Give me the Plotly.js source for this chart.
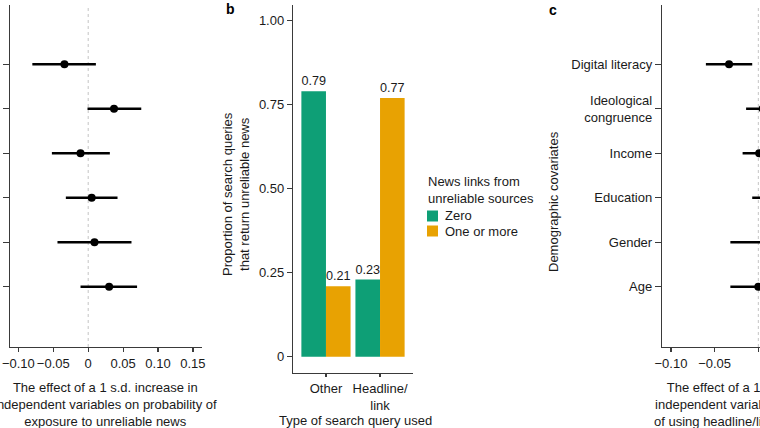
<!DOCTYPE html>
<html>
<head>
<meta charset="utf-8">
<script src="https://cdn.plot.ly/plotly-3.0.1.min.js"></script>
<style>html,body{margin:0;padding:0;background:#fff;}#chart{width:760px;height:428px;}</style>
</head>
<body>
<div id="chart"></div>
<script>
// ---- Data ----
// Covariates, ordered bottom to top
const covariates = ["Age", "Gender", "Education", "Income", "Ideological<br>congruence", "Digital literacy"];

// Panel a: effect on probability of exposure to unreliable news
const exposureEst = [0.030, 0.009, 0.005, -0.011, 0.037, -0.034];
const exposureLo  = [-0.011, -0.044, -0.032, -0.052, -0.001, -0.080];
const exposureHi  = [0.070, 0.062, 0.042, 0.031, 0.076, 0.011];

// Panel b: proportion of search queries returning unreliable news
const queryTypes = ["Other", "Headline/<br>link"];
const seriesNames = ["Zero", "One or more"];
const zeroLinks = [0.79, 0.23];
const oneOrMoreLinks = [0.21, 0.77];

// Panel c: effect on probability of using headline/link queries
const headlineEst = [0.000, 0.008, 0.012, 0.001, 0.005, -0.0335];
const headlineLo  = [-0.032, -0.032, -0.007, -0.018, -0.014, -0.060];
const headlineHi  = [0.032, 0.048, 0.030, 0.020, 0.025, -0.007];

const ticksA = [-0.10, -0.05, 0, 0.05, 0.10, 0.15];
const tickLabelsA = ["\u22120.10", "\u22120.05", "0", "0.05", "0.10", "0.15"];
const ticksB = [0, 0.25, 0.5, 0.75, 1.0];
const tickLabelsB = ["0", "0.25", "0.50", "0.75", "1.00"];
const ticksC = [-0.10, -0.05, 0];
const tickLabelsC = ["\u22120.10", "\u22120.05", "0"];

// ---- Helpers ----
const W = 760, H = 428;
const px = v => v / W;
const py = v => 1 - v / H;
const FONT = "Liberation Sans, Arial, Helvetica, sans-serif";
const TXT = "#1a1a1a";
const AX = "#3a3a3a";
const GREEN = "#0E9F76";
const ORANGE = "#E8A202";
const colors = [GREEN, ORANGE];

function errs(est, lo, hi) {
  return {
    plus: est.map((e, i) => hi[i] - e),
    minus: est.map((e, i) => e - lo[i])
  };
}
const eA = errs(exposureEst, exposureLo, exposureHi);
const eC = errs(headlineEst, headlineLo, headlineHi);

const traces = [
  {
    type: "scatter", mode: "markers", x: exposureEst, y: covariates,
    xaxis: "x", yaxis: "y",
    marker: {color: "#000", size: 8},
    error_x: {type: "data", symmetric: false, array: eA.plus, arrayminus: eA.minus,
              color: "#000", thickness: 2.4, width: 0},
    showlegend: false, hoverinfo: "x+y"
  },
  {
    type: "bar", name: seriesNames[0], x: queryTypes, y: zeroLinks,
    xaxis: "x2", yaxis: "y2", showlegend: false,
    marker: {color: colors[0], line: {width: 0}},
    text: zeroLinks.map(v => v.toFixed(2)), textposition: "outside",
    textfont: {family: FONT, size: 13, color: TXT}, cliponaxis: false
  },
  {
    type: "bar", name: seriesNames[1], x: queryTypes, y: oneOrMoreLinks,
    xaxis: "x2", yaxis: "y2", showlegend: false,
    marker: {color: colors[1], line: {width: 0}},
    text: oneOrMoreLinks.map(v => v.toFixed(2)), textposition: "outside",
    textfont: {family: FONT, size: 13, color: TXT}, cliponaxis: false
  },
  {
    type: "scatter", mode: "markers", x: headlineEst, y: covariates,
    xaxis: "x3", yaxis: "y3",
    marker: {color: "#000", size: 8},
    error_x: {type: "data", symmetric: false, array: eC.plus, arrayminus: eC.minus,
              color: "#000", thickness: 2.4, width: 0},
    showlegend: false, hoverinfo: "x+y"
  }
];

const axCommon = {
  showgrid: false, zeroline: false, showline: true, linecolor: AX, linewidth: 1.2,
  ticks: "outside", ticklen: 4, tickwidth: 1.2, tickcolor: AX,
  tickfont: {family: FONT, size: 13, color: TXT}
};

const rowRange = [-1.356, 6.333];

// Legend drawn as small squares with labels (compact spacing as in the reference)
const legendShapes = seriesNames.map((n, i) => ({
  type: "rect", xref: "paper", yref: "paper",
  x0: px(427), x1: px(438), y0: py(221.5 + 15 * i), y1: py(210.5 + 15 * i),
  fillcolor: colors[i], line: {width: 0}
}));
const legendLabels = seriesNames.map((n, i) => ({
  text: n, xref: "paper", yref: "paper", x: px(443), y: py(216 + 15 * i),
  xanchor: "left", yanchor: "middle", showarrow: false,
  font: {family: FONT, size: 13, color: TXT}
}));

const layout = {
  width: W, height: H,
  margin: {l: 0, r: 0, t: 0, b: 0},
  paper_bgcolor: "#fff", plot_bgcolor: "#fff",
  font: {family: FONT, size: 13, color: TXT},
  barmode: "group", bargap: 0.09, bargroupgap: 0,
  showlegend: false,
  xaxis: Object.assign({}, axCommon, {
    domain: [px(10), px(202)], range: [-0.112, 0.163],
    tickvals: ticksA, ticktext: tickLabelsA, anchor: "y"
  }),
  yaxis: Object.assign({}, axCommon, {
    domain: [py(347), py(5)], type: "category", categoryorder: "array", categoryarray: covariates,
    range: rowRange, showticklabels: false, ticklen: 6, anchor: "x"
  }),
  xaxis2: Object.assign({}, axCommon, {
    domain: [px(293), px(413)], type: "category", range: [-0.61, 1.61], anchor: "y2", ticklen: 3
  }),
  yaxis2: Object.assign({}, axCommon, {
    domain: [py(373), py(5)], range: [-0.048, 1.047],
    tickvals: ticksB, ticktext: tickLabelsB, anchor: "x2", ticklen: 5
  }),
  xaxis3: Object.assign({}, axCommon, {
    domain: [px(662), 1], range: [-0.1102, 0.0019],
    tickvals: ticksC, ticktext: tickLabelsC, anchor: "y3"
  }),
  yaxis3: Object.assign({}, axCommon, {
    domain: [py(347), py(5)], type: "category", categoryorder: "array", categoryarray: covariates,
    range: rowRange, ticklen: 6, anchor: "x3"
  }),
  shapes: [
    {type: "line", xref: "x", yref: "paper", x0: 0, x1: 0, y0: py(347), y1: py(5),
     line: {color: "#c4c4c4", width: 1, dash: "3px,3px"}, layer: "below"},
    {type: "line", xref: "x3", yref: "paper", x0: 0, x1: 0, y0: py(347), y1: py(5),
     line: {color: "#c4c4c4", width: 1, dash: "3px,3px"}, layer: "below"}
  ].concat(legendShapes),
  annotations: [
    {text: "The effect of a 1 s.d. increase in<br>independent variables on probability of<br>exposure to unreliable news",
     xref: "paper", yref: "paper", x: px(106), y: py(404), xanchor: "center", yanchor: "middle",
     showarrow: false, align: "center", font: {family: FONT, size: 13, color: TXT}},
    {text: "<b>b</b>", xref: "paper", yref: "paper", x: px(230), y: py(9), xanchor: "center", yanchor: "middle",
     showarrow: false, font: {family: FONT, size: 14, color: "#000"}},
    {text: "Proportion of search queries<br>that return unreliable news", textangle: -90,
     xref: "paper", yref: "paper", x: px(236), y: py(194), xanchor: "center", yanchor: "middle",
     showarrow: false, align: "center", font: {family: FONT, size: 13, color: TXT}},
    {text: "Type of search query used",
     xref: "paper", yref: "paper", x: px(355), y: py(420), xanchor: "center", yanchor: "middle",
     showarrow: false, font: {family: FONT, size: 13, color: TXT}},
    {text: "News links from<br>unreliable sources",
     xref: "paper", yref: "paper", x: px(426), y: py(190), xanchor: "left", yanchor: "middle",
     showarrow: false, align: "left", font: {family: FONT, size: 13, color: TXT}},
    {text: "<b>c</b>", xref: "paper", yref: "paper", x: px(553), y: py(10), xanchor: "center", yanchor: "middle",
     showarrow: false, font: {family: FONT, size: 14, color: "#000"}},
    {text: "Demographic covariates", textangle: -90,
     xref: "paper", yref: "paper", x: px(553), y: py(202), xanchor: "center", yanchor: "middle",
     showarrow: false, font: {family: FONT, size: 13, color: TXT}},
    {text: "The effect of a 1 s.d. increase in<br>independent variables on probability<br>of using headline/link search queries",
     xref: "paper", yref: "paper", x: px(759), y: py(404), xanchor: "center", yanchor: "middle",
     showarrow: false, align: "center", font: {family: FONT, size: 13, color: TXT}}
  ].concat(legendLabels)
};

Plotly.newPlot("chart", traces, layout, {staticPlot: true, displayModeBar: false});
</script>
</body>
</html>
